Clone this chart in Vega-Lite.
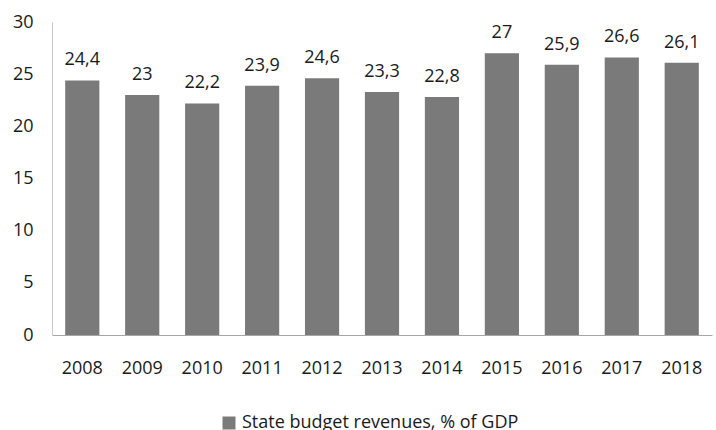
{
  "$schema": "https://vega.github.io/schema/vega-lite/v6.json",
  "width": 660,
  "height": 313,
  "autosize": "none",
  "padding": {"left": 52, "top": 22, "right": 4, "bottom": 95},
  "background": "white",
  "config": {
    "locale": {"number": {"decimal": ",", "thousands": " ", "grouping": [3], "currency": ["", ""]}},
    "view": {"stroke": null},
    "font": "Open Sans"
  },
  "data": {
    "values": [
      {"year": "2008", "value": 24.4, "series": "State budget revenues, % of GDP"},
      {"year": "2009", "value": 23, "series": "State budget revenues, % of GDP"},
      {"year": "2010", "value": 22.2, "series": "State budget revenues, % of GDP"},
      {"year": "2011", "value": 23.9, "series": "State budget revenues, % of GDP"},
      {"year": "2012", "value": 24.6, "series": "State budget revenues, % of GDP"},
      {"year": "2013", "value": 23.3, "series": "State budget revenues, % of GDP"},
      {"year": "2014", "value": 22.8, "series": "State budget revenues, % of GDP"},
      {"year": "2015", "value": 27, "series": "State budget revenues, % of GDP"},
      {"year": "2016", "value": 25.9, "series": "State budget revenues, % of GDP"},
      {"year": "2017", "value": 26.6, "series": "State budget revenues, % of GDP"},
      {"year": "2018", "value": 26.1, "series": "State budget revenues, % of GDP"}
    ]
  },
  "encoding": {
    "x": {
      "field": "year", "type": "nominal", "title": null,
      "scale": {"paddingInner": 0.43, "paddingOuter": 0.22},
      "axis": {"labelAngle": 0, "ticks": false, "domainColor": "#a6a6a6", "labelFontSize": 18, "labelColor": "#1a1a1a", "labelPadding": 24}
    },
    "y": {
      "field": "value", "type": "quantitative", "title": null,
      "scale": {"domain": [0, 30]},
      "axis": {"values": [0, 5, 10, 15, 20, 25, 30], "grid": false, "ticks": false, "domainColor": "#c8c8c8", "labelFontSize": 18, "labelColor": "#1a1a1a", "labelPadding": 19}
    }
  },
  "layer": [
    {
      "mark": {"type": "bar", "color": "#7a7a7a"},
      "encoding": {
        "color": {
          "field": "series", "type": "nominal", "title": null,
          "scale": {"range": ["#7a7a7a"]},
          "legend": {"orient": "none", "legendX": 168, "legendY": 392, "symbolType": "square", "symbolSize": 169, "labelFontSize": 18, "labelLimit": 400, "labelColor": "#1a1a1a", "symbolStrokeWidth": 0, "symbolOpacity": 1}
        }
      }
    },
    {
      "mark": {"type": "text", "baseline": "alphabetic", "dy": -15, "fontSize": 18, "color": "#1a1a1a"},
      "encoding": {
        "text": {"field": "value", "type": "quantitative", "format": ".1~f"}
      }
    }
  ]
}
